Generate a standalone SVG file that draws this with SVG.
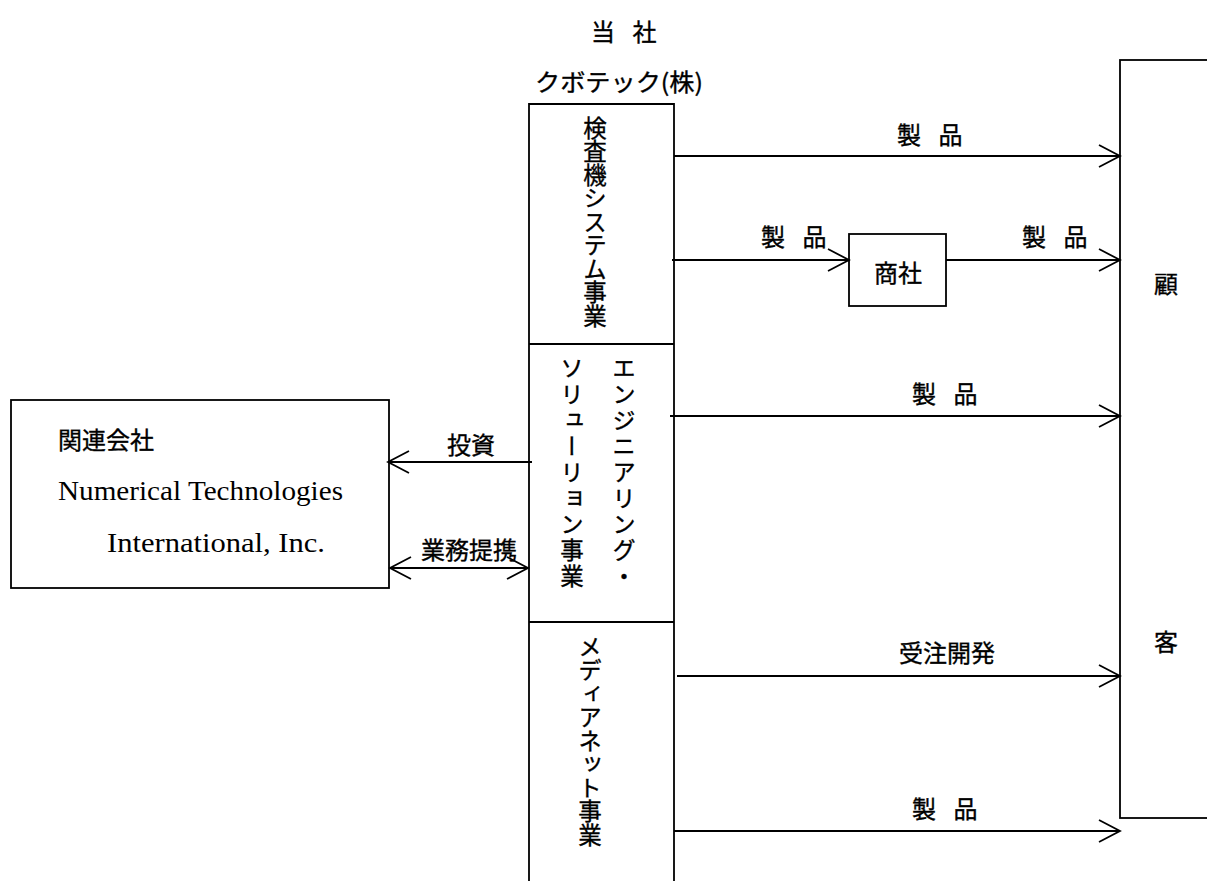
<svg xmlns="http://www.w3.org/2000/svg" width="1207" height="881" viewBox="0 0 1207 881">
<style>
.ln{stroke:#000;stroke-width:1.8;fill:none}
.bx{fill:#fff;stroke:#000;stroke-width:1.8}
.jp{font-family:"Noto Sans CJK JP","Noto Sans",sans-serif;font-size:24px;fill:#000;stroke:#000;stroke-width:0.35}
.vt{writing-mode:vertical-rl;font-size:23.5px}
.c{dominant-baseline:central}
.en{font-family:"Liberation Serif",serif;font-size:27px;fill:#000}
.arr{marker-end:url(#ah)}
.arr2{marker-start:url(#ah);marker-end:url(#ah)}
</style>
<defs>
<marker id="ah" markerUnits="userSpaceOnUse" markerWidth="24" markerHeight="24" refX="21" refY="11" orient="auto-start-reverse" overflow="visible">
<path d="M0,0 L21,11 L0,22" fill="none" stroke="#000" stroke-width="1.8"/>
</marker>
</defs>
<rect width="1207" height="881" fill="#fff"/>
<g id="header">
<text class="jp c" x="591" y="30" xml:space="preserve" word-spacing="12">当 社</text>
<text class="jp c" x="535" y="80" textLength="168" lengthAdjust="spacingAndGlyphs">クボテック(株)</text>
</g>
<g id="kubotek">
<path class="ln" d="M529,881 V104 H674 V881 M529,344 H674 M529,622 H674"/>
</g>
<g id="div-inspection">
<text class="jp vt" x="595" y="116">検査機システム事業</text>
</g>
<g id="div-engineering">
<text class="jp vt" x="624" y="356" letter-spacing="2.6">エンジニアリング・</text>
<text class="jp vt" x="572" y="356" letter-spacing="2.6">ソリューリョン事業</text>
</g>
<g id="div-medianet">
<text class="jp vt" x="590" y="635">メディアネット事業</text>
</g>
<g id="trading">
<rect class="bx" x="849" y="234" width="97" height="72"/>
<text class="jp c" x="898" y="271" text-anchor="middle">商社</text>
</g>
<g id="customer">
<rect class="bx" x="1120" y="60" width="120" height="758"/>
<text class="jp c" x="1166" y="282" text-anchor="middle">顧</text>
<text class="jp c" x="1166" y="640" text-anchor="middle">客</text>
</g>
<g id="affiliate">
<rect class="bx" x="11" y="400" width="378" height="188"/>
<text class="jp c" x="58" y="438">関連会社</text>
<text class="en" x="58" y="500" textLength="285" lengthAdjust="spacingAndGlyphs">Numerical Technologies</text>
<text class="en" x="107" y="552" textLength="218" lengthAdjust="spacingAndGlyphs">International, Inc.</text>
</g>
<g id="connectors">
<path class="ln arr" d="M674,156 H1120"/>
<path class="ln arr" d="M672,260 H849"/>
<path class="ln arr" d="M946,260 H1120"/>
<path class="ln arr" d="M670,416 H1120"/>
<path class="ln arr" d="M677,676 H1120"/>
<path class="ln arr" d="M674,831 H1120"/>
<path class="ln arr" d="M532,462 H388"/>
<path class="ln arr2" d="M390,568 H528"/>
<text class="jp c" x="897" y="133" xml:space="preserve" word-spacing="12">製 品</text>
<text class="jp c" x="761" y="235" xml:space="preserve" word-spacing="12">製 品</text>
<text class="jp c" x="1022" y="235" xml:space="preserve" word-spacing="12">製 品</text>
<text class="jp c" x="912" y="392" xml:space="preserve" word-spacing="12">製 品</text>
<text class="jp c" x="899" y="651">受注開発</text>
<text class="jp c" x="912" y="807" xml:space="preserve" word-spacing="12">製 品</text>
<text class="jp c" x="447" y="443">投資</text>
<text class="jp c" x="421" y="548">業務提携</text>
</g>
</svg>
